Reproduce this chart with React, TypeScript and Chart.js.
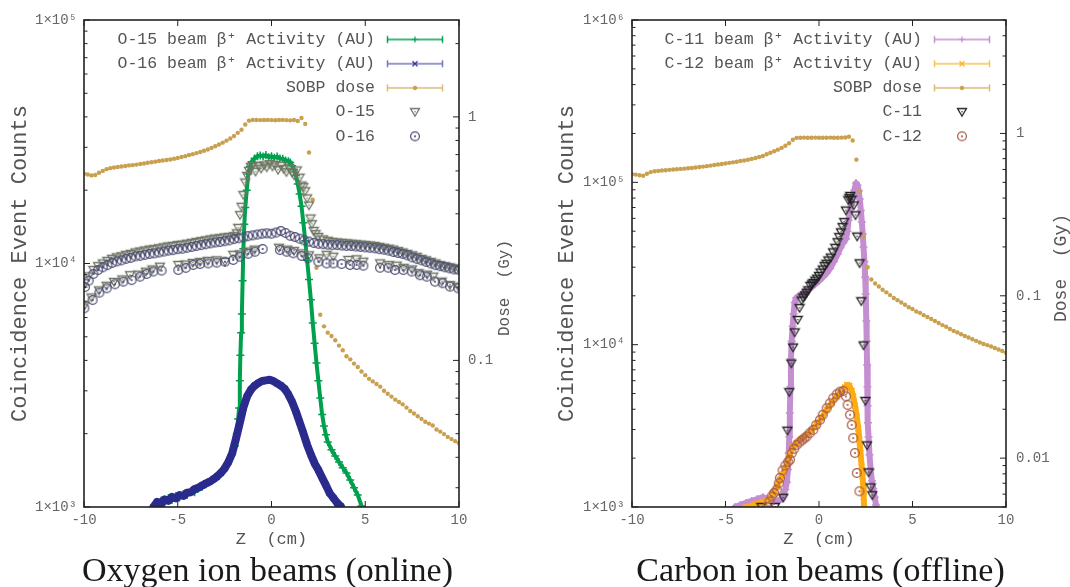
import React, { useEffect, useRef } from "react";
import { Chart, registerables } from "chart.js";
Chart.register(...registerables);

type P = [number, number];

// ---------- axis ticks ----------
const Z_TICKS = [-10, -5, 0, 5, 10];
const OXY_COUNT_TICKS = [1e3, 1e4, 1e5];
const OXY_DOSE_TICKS = [0.1, 1];
const CAR_COUNT_TICKS = [1e3, 1e4, 1e5, 1e6];
const CAR_DOSE_TICKS = [0.01, 0.1, 1];

// ---------- Oxygen panel data ----------
const O15_ACTIVITY: P[] = [
  [-6.3, 1000], [-6.1, 1040], [-5.9, 1060], [-5.7, 1035], [-5.5, 1090], [-5.3, 1070], [-5.1, 1110], [-4.9, 1095],
  [-4.7, 1130], [-4.5, 1120], [-4.3, 1160], [-4.1, 1150], [-3.9, 1195], [-3.7, 1210], [-3.5, 1240], [-3.3, 1265],
  [-3.1, 1300], [-2.9, 1330], [-2.7, 1380], [-2.5, 1440], [-2.3, 1530], [-2.1, 1650], [-1.95, 1780], [-1.85, 2000],
  [-1.78, 2300], [-1.73, 2550], [-1.69, 3300], [-1.66, 4200], [-1.62, 5200], [-1.58, 6200], [-1.54, 8500], [-1.5, 11500],
  [-1.45, 14500], [-1.4, 17000], [-1.32, 20000], [-1.24, 23300], [-1.15, 25000], [-1.06, 26200], [-0.9, 27000], [-0.75, 27600],
  [-0.6, 27800], [-0.45, 27500], [-0.3, 27900], [-0.15, 27300], [0, 27600], [0.15, 27200], [0.3, 27500], [0.45, 27000],
  [0.6, 26900], [0.75, 26500], [0.9, 26300], [1.0, 26000], [1.1, 25200], [1.2, 24300], [1.3, 23000], [1.4, 21200],
  [1.5, 19300], [1.6, 17200], [1.7, 14700], [1.8, 12400], [1.9, 10300], [2.0, 8600], [2.1, 7100], [2.2, 5700],
  [2.3, 4700], [2.4, 3900], [2.5, 3300], [2.6, 2800], [2.7, 2400], [2.8, 2150], [2.9, 1980], [3.0, 1850],
  [3.2, 1720], [3.4, 1620], [3.6, 1530], [3.8, 1450], [4.0, 1380], [4.2, 1290], [4.4, 1200], [4.6, 1120], [4.8, 1010],
];

const O16_ACTIVITY: P[] = [
  [-6.3, 1000], [-6.1, 1050], [-5.9, 1030], [-5.7, 1075], [-5.5, 1060], [-5.3, 1100], [-5.1, 1085], [-4.9, 1120],
  [-4.7, 1110], [-4.5, 1145], [-4.3, 1150], [-4.1, 1185], [-3.9, 1200], [-3.7, 1225], [-3.5, 1250], [-3.3, 1270],
  [-3.1, 1300], [-2.9, 1335], [-2.7, 1380], [-2.5, 1440], [-2.3, 1530], [-2.1, 1660], [-1.9, 1900], [-1.7, 2200],
  [-1.5, 2560], [-1.3, 2850], [-1.1, 3030], [-0.9, 3150], [-0.7, 3230], [-0.5, 3290], [-0.3, 3310], [-0.1, 3330],
  [0.1, 3290], [0.3, 3220], [0.5, 3150], [0.7, 3060], [0.9, 2900], [1.1, 2700], [1.3, 2470], [1.5, 2230],
  [1.7, 2010], [1.9, 1800], [2.1, 1640], [2.3, 1510], [2.5, 1420], [2.7, 1320], [2.9, 1230], [3.1, 1140],
  [3.3, 1090], [3.5, 1040], [3.7, 1005],
];

const DOSE_OXY: P[] = [
  [-10, 0.584], [-9.8, 0.58], [-9.6, 0.575], [-9.4, 0.577], [-9.2, 0.59], [-9, 0.6], [-8.8, 0.61], [-8.6, 0.616],
  [-8.4, 0.62], [-8.2, 0.623], [-8, 0.626], [-7.8, 0.629], [-7.6, 0.632], [-7.4, 0.634], [-7.2, 0.637], [-7, 0.641],
  [-6.8, 0.644], [-6.6, 0.648], [-6.4, 0.651], [-6.2, 0.655], [-6, 0.659], [-5.8, 0.662], [-5.6, 0.665], [-5.4, 0.668],
  [-5.2, 0.673], [-5, 0.678], [-4.8, 0.684], [-4.6, 0.69], [-4.4, 0.697], [-4.2, 0.703], [-4, 0.71], [-3.8, 0.718],
  [-3.6, 0.726], [-3.4, 0.735], [-3.2, 0.746], [-3, 0.758], [-2.8, 0.77], [-2.6, 0.784], [-2.4, 0.799], [-2.2, 0.815],
  [-2, 0.835], [-1.8, 0.86], [-1.6, 0.885], [-1.4, 0.93], [-1.2, 0.965], [-1, 0.972], [-0.8, 0.971], [-0.6, 0.97],
  [-0.4, 0.971], [-0.2, 0.972], [0, 0.97], [0.2, 0.969], [0.4, 0.971], [0.6, 0.972], [0.8, 0.97], [1, 0.968],
  [1.2, 0.971], [1.4, 0.962], [1.6, 0.99], [1.8, 0.936], [2, 0.714], [2.2, 0.457], [2.4, 0.24], [2.6, 0.154],
  [2.8, 0.138], [3, 0.13], [3.2, 0.126], [3.4, 0.121], [3.6, 0.115], [3.8, 0.11], [4, 0.104], [4.2, 0.101],
  [4.4, 0.097], [4.6, 0.094], [4.8, 0.09], [5, 0.087], [5.2, 0.084], [5.4, 0.082], [5.6, 0.08], [5.8, 0.078],
  [6, 0.075], [6.2, 0.073], [6.4, 0.071], [6.6, 0.069], [6.8, 0.0675], [7, 0.066], [7.2, 0.064], [7.4, 0.062],
  [7.6, 0.0605], [7.8, 0.059], [8, 0.0575], [8.2, 0.056], [8.4, 0.055], [8.6, 0.054], [8.8, 0.052], [9, 0.051],
  [9.2, 0.0498], [9.4, 0.0485], [9.6, 0.0475], [9.8, 0.0466], [10, 0.0457],
];

const O15_POINTS_MAIN: P[] = [
  [-9.95, 8300], [-9.75, 8850], [-9.5, 9400], [-9.25, 9750], [-9.0, 10000], [-8.75, 10250], [-8.5, 10450], [-8.25, 10600],
  [-8.0, 10700], [-7.75, 10850], [-7.5, 10950], [-7.25, 11100], [-7.0, 11200], [-6.75, 11300], [-6.5, 11400], [-6.25, 11450],
  [-6.0, 11550], [-5.75, 11650], [-5.5, 11750], [-5.25, 11800], [-5.0, 11900], [-4.75, 11950], [-4.5, 12050], [-4.25, 12150],
  [-4.0, 12250], [-3.75, 12350], [-3.5, 12450], [-3.25, 12550], [-3.0, 12650], [-2.75, 12700], [-2.5, 12800], [-2.25, 12850],
  [-2.0, 12950], [-1.85, 13300], [-1.77, 14000], [-1.68, 15800], [-1.6, 17100], [-1.5, 19100], [-1.4, 21500], [-1.3, 22900],
  [-1.2, 24000], [-1.1, 24900], [-1.0, 25200], [-0.85, 23800], [-0.7, 25100], [-0.55, 24500], [-0.4, 25300], [-0.25, 24800],
  [-0.1, 25600], [0.05, 25000], [0.2, 25400], [0.35, 24200], [0.5, 25200], [0.65, 24400], [0.8, 23700], [0.95, 24600],
  [1.1, 23600], [1.2, 23000], [1.35, 24100], [1.5, 22500], [1.6, 20900], [1.7, 20600], [1.8, 19800], [1.9, 18500],
  [2.0, 17300], [2.08, 15300], [2.15, 14500], [2.25, 13600], [2.35, 13200], [2.5, 12850], [2.75, 12550], [3.0, 12400],
  [3.25, 12250], [3.5, 12200], [3.75, 12150], [4.0, 12100], [4.25, 12050], [4.5, 12000], [4.75, 11950], [5.0, 11900],
  [5.25, 11850], [5.5, 11800], [5.75, 11700], [6.0, 11600], [6.25, 11500], [6.5, 11400], [6.75, 11250], [7.0, 11100],
  [7.25, 10950], [7.5, 10800], [7.75, 10650], [8.0, 10450], [8.25, 10300], [8.5, 10150], [8.75, 10000], [9.0, 9850],
  [9.25, 9750], [9.5, 9650], [9.75, 9550], [10.0, 9450],
];

const O15_POINTS_LOW: P[] = [
  [-9.98, 6700], [-9.6, 7250], [-9.2, 7750], [-8.8, 8100], [-8.4, 8400], [-7.95, 8600], [-7.55, 8950], [-7.1, 9000],
  [-6.7, 9250], [-6.35, 9450], [-5.95, 9700], [-4.97, 9860], [-4.6, 9900], [-4.2, 10050], [-3.8, 10150], [-3.4, 10250],
  [-2.92, 10300], [-2.48, 10150], [-2.04, 10850], [-1.7, 10900], [-1.3, 11200], [-0.9, 11400], [0.4, 11600], [0.85, 11400],
  [1.2, 11250], [1.65, 11000], [2.0, 10800], [2.55, 10500], [2.94, 10850], [3.3, 10660], [4.1, 10340], [4.54, 10400],
  [4.9, 10170], [5.79, 10010], [6.25, 9850], [6.68, 9800], [7.05, 9600], [7.5, 9450], [7.84, 9130], [8.3, 9000],
  [8.63, 8830], [9.08, 8420], [9.52, 8150], [9.96, 8040],
];

const O16_POINTS_MAIN: P[] = [
  [-9.95, 8000], [-9.75, 8500], [-9.5, 9050], [-9.25, 9400], [-9.0, 9650], [-8.75, 9850], [-8.5, 10050], [-8.25, 10200],
  [-8.0, 10300], [-7.75, 10450], [-7.5, 10550], [-7.25, 10700], [-7.0, 10750], [-6.75, 10850], [-6.5, 10950], [-6.25, 11000],
  [-6.0, 11100], [-5.75, 11200], [-5.5, 11300], [-5.25, 11350], [-5.0, 11450], [-4.75, 11500], [-4.5, 11600], [-4.25, 11700],
  [-4.0, 11800], [-3.75, 11900], [-3.5, 12000], [-3.25, 12100], [-3.0, 12200], [-2.75, 12250], [-2.5, 12350], [-2.25, 12450],
  [-2.0, 12600], [-1.75, 12700], [-1.5, 12800], [-1.25, 12950], [-1.0, 13050], [-0.75, 13150], [-0.5, 13250], [-0.25, 13300],
  [0, 13250], [0.25, 13400], [0.5, 13600], [0.75, 13350], [1.0, 13000], [1.25, 12850], [1.5, 12650], [1.75, 12450],
  [2.0, 12300], [2.25, 12150], [2.5, 12050], [2.75, 12000], [3.0, 11950], [3.25, 11900], [3.5, 11900], [3.75, 11850],
  [4.0, 11800], [4.25, 11800], [4.5, 11750], [4.75, 11700], [5.0, 11650], [5.25, 11600], [5.5, 11550], [5.75, 11450],
  [6.0, 11400], [6.25, 11300], [6.5, 11150], [6.75, 11050], [7.0, 10950], [7.25, 10800], [7.5, 10600], [7.75, 10450],
  [8.0, 10300], [8.25, 10150], [8.5, 10000], [8.75, 9850], [9.0, 9750], [9.25, 9650], [9.5, 9550], [9.75, 9450], [10.0, 9400],
];

const O16_POINTS_LOW: P[] = [
  [-9.98, 6550], [-9.54, 7080], [-9.18, 7590], [-8.79, 7910], [-8.35, 8215], [-7.9, 8420], [-7.46, 8550], [-7.01, 8830],
  [-6.66, 9060], [-6.3, 9270], [-5.86, 9350], [-4.97, 9400], [-4.57, 9600], [-4.17, 9860], [-3.81, 9950], [-3.37, 10010],
  [-2.92, 10080], [-2.48, 10170], [-2.04, 10340], [-1.68, 10660], [-1.24, 10960], [-0.88, 11180], [-0.47, 11470], [0.45, 11360],
  [0.81, 11180], [1.16, 11020], [1.61, 10740], [1.96, 10520], [2.5, 10170], [2.94, 10010], [3.3, 10010], [3.74, 9950],
  [4.19, 9860], [4.54, 9860], [4.9, 9800], [5.79, 9610], [6.23, 9610], [6.59, 9400], [7.03, 9400], [7.48, 9270],
  [7.92, 8950], [8.28, 8830], [8.72, 8420], [9.13, 8300], [9.52, 8040], [9.96, 7910],
];

// ---------- Carbon panel data ----------
const C11_ACTIVITY: P[] = [
  [-4.5, 1000], [-4.2, 1030], [-3.9, 1060], [-3.6, 1090], [-3.3, 1120], [-3.0, 1150], [-2.7, 1120], [-2.4, 1090],
  [-2.2, 1086], [-2.0, 1120], [-1.9, 1180], [-1.8, 1280], [-1.72, 1420], [-1.66, 1700], [-1.62, 2150], [-1.59, 2700],
  [-1.56, 3800], [-1.53, 5500], [-1.5, 8200], [-1.46, 10500], [-1.41, 13000], [-1.36, 15500], [-1.3, 18200], [-1.22, 19400],
  [-1.1, 19900], [-0.95, 20300], [-0.8, 20900], [-0.6, 21700], [-0.4, 22600], [-0.2, 23600], [0.0, 24700], [0.2, 26000],
  [0.4, 27500], [0.6, 29500], [0.8, 32500], [1.0, 36100], [1.15, 39500], [1.3, 42500], [1.44, 44800], [1.52, 50000],
  [1.58, 58300], [1.65, 66000], [1.72, 74000], [1.8, 83000], [1.89, 89500], [1.98, 99000], [2.06, 96000], [2.12, 89000],
  [2.18, 79000], [2.24, 67000], [2.29, 57000], [2.34, 48000], [2.38, 40000], [2.43, 32500], [2.47, 26000], [2.5, 20500],
  [2.53, 14000], [2.55, 10500], [2.57, 7500], [2.59, 5500], [2.6, 4200], [2.62, 3300], [2.65, 2700], [2.7, 2100],
  [2.76, 1700], [2.83, 1450], [2.9, 1300], [2.98, 1150], [3.05, 1030],
];

const C12_ACTIVITY: P[] = [
  [-3.9, 1000], [-3.6, 1020], [-3.3, 1050], [-3.0, 1070], [-2.8, 1085], [-2.6, 1140], [-2.44, 1222], [-2.25, 1330],
  [-2.09, 1475], [-1.95, 1590], [-1.82, 1698], [-1.68, 1900], [-1.55, 2150], [-1.4, 2330], [-1.19, 2474], [-0.95, 2620],
  [-0.66, 2783], [-0.4, 2980], [-0.12, 3204], [0.15, 3550], [0.41, 3965], [0.7, 4400], [0.95, 4785], [1.2, 5150],
  [1.39, 5450], [1.5, 5650], [1.62, 5600], [1.75, 5200], [1.83, 4785], [1.93, 4200], [2.02, 3606], [2.1, 3050],
  [2.16, 2594], [2.22, 2150], [2.28, 1780], [2.33, 1540], [2.37, 1342], [2.39, 1150], [2.41, 1000],
];

const DOSE_CAR: P[] = [
  [-10, 0.562], [-9.8, 0.558], [-9.6, 0.553], [-9.4, 0.549], [-9.2, 0.565], [-9, 0.578], [-8.8, 0.585], [-8.6, 0.588],
  [-8.4, 0.591], [-8.2, 0.594], [-8, 0.597], [-7.8, 0.6], [-7.6, 0.602], [-7.4, 0.605], [-7.2, 0.607], [-7, 0.61],
  [-6.8, 0.613], [-6.6, 0.617], [-6.4, 0.621], [-6.2, 0.625], [-6, 0.629], [-5.8, 0.634], [-5.6, 0.639], [-5.4, 0.644],
  [-5.2, 0.649], [-5, 0.654], [-4.8, 0.659], [-4.6, 0.664], [-4.4, 0.67], [-4.2, 0.676], [-4, 0.682], [-3.8, 0.689],
  [-3.6, 0.697], [-3.4, 0.706], [-3.2, 0.716], [-3, 0.727], [-2.8, 0.745], [-2.6, 0.76], [-2.4, 0.777], [-2.2, 0.795],
  [-2, 0.815], [-1.8, 0.84], [-1.6, 0.87], [-1.4, 0.915], [-1.2, 0.94], [-1, 0.942], [-0.8, 0.943], [-0.6, 0.941],
  [-0.4, 0.942], [-0.2, 0.943], [0, 0.942], [0.2, 0.941], [0.4, 0.942], [0.6, 0.943], [0.8, 0.941], [1, 0.942],
  [1.2, 0.943], [1.4, 0.945], [1.6, 0.955], [1.8, 0.905], [2, 0.69], [2.2, 0.44], [2.4, 0.232], [2.6, 0.15],
  [2.8, 0.126], [3, 0.119], [3.2, 0.114], [3.4, 0.109], [3.6, 0.105], [3.8, 0.101], [4, 0.097], [4.2, 0.094],
  [4.4, 0.091], [4.6, 0.088], [4.8, 0.085], [5, 0.083], [5.2, 0.08], [5.4, 0.0785], [5.6, 0.076], [5.8, 0.074],
  [6, 0.072], [6.2, 0.07], [6.4, 0.068], [6.6, 0.066], [6.8, 0.0645], [7, 0.0625], [7.2, 0.0608], [7.4, 0.0595],
  [7.6, 0.058], [7.8, 0.0566], [8, 0.0553], [8.2, 0.054], [8.4, 0.0528], [8.6, 0.0516], [8.8, 0.0505], [9, 0.0497],
  [9.2, 0.0487], [9.4, 0.0477], [9.6, 0.0467], [9.8, 0.0457], [10, 0.0446],
];

const C11_POINTS: P[] = [
  [-3.08, 1000], [-2.35, 1000], [-1.91, 1140], [-1.69, 2950], [-1.59, 5100], [-1.48, 7650], [-1.39, 9600], [-1.3, 11900],
  [-1.14, 14200], [-1.04, 16800], [-0.93, 18700], [-0.84, 19500], [-0.75, 20100], [-0.66, 20900], [-0.57, 21600], [-0.46, 23000],
  [-0.38, 23500], [-0.3, 24000], [-0.2, 24800], [-0.1, 25500], [0.0, 26500], [0.08, 27800], [0.2, 29000], [0.3, 30500],
  [0.4, 31500], [0.5, 33000], [0.63, 34400], [0.75, 37000], [0.87, 39500], [0.99, 42750], [1.08, 46000], [1.17, 49200],
  [1.26, 53000], [1.35, 56900], [1.44, 67000], [1.57, 77600], [1.62, 80000], [1.67, 82400], [1.75, 78000], [1.86, 72100],
  [1.95, 62600], [2.04, 46300], [2.17, 31700], [2.26, 18500], [2.38, 9890], [2.48, 4500], [2.57, 2393], [2.65, 1634],
  [2.76, 1319], [2.85, 1181],
];

const C12_POINTS: P[] = [
  [-2.8, 1000], [-2.65, 1080], [-2.53, 1165], [-2.4, 1220], [-2.26, 1280], [-2.15, 1400], [-2.09, 1510], [-1.95, 1680],
  [-1.8, 1800], [-1.65, 1900], [-1.55, 1955], [-1.46, 2150], [-1.33, 2280], [-1.19, 2417], [-1.05, 2500], [-0.9, 2580],
  [-0.78, 2650], [-0.66, 2720], [-0.5, 2850], [-0.31, 2985], [-0.15, 3200], [0.05, 3440], [0.2, 3700], [0.41, 4060],
  [0.58, 4350], [0.76, 4680], [0.95, 4950], [1.12, 5130], [1.3, 5190], [1.44, 4800], [1.53, 4255], [1.66, 3700],
  [1.75, 3204], [1.83, 2658], [1.92, 2150], [2.02, 1620], [2.16, 1250],
];

// ---------- styling ----------
const MONO = "'Liberation Mono', 'DejaVu Sans Mono', monospace";
const SERIF = "'Liberation Serif', 'DejaVu Serif', serif";
const TEXT = "#555555";
const SUP: Record<string, string> = { "0": "⁰", "1": "¹", "2": "²", "3": "³", "4": "⁴", "5": "⁵", "6": "⁶", "7": "⁷", "8": "⁸", "9": "⁹" };
const sciLabel = (v: number) => "1×10" + String(Math.round(Math.log10(v))).split("").map((d) => SUP[d] || d).join("");

function mk(w: number, h: number, draw: (c: CanvasRenderingContext2D) => void) {
  const cv = document.createElement("canvas");
  cv.width = w;
  cv.height = h;
  draw(cv.getContext("2d") as CanvasRenderingContext2D);
  return cv;
}
function triMarker(color: string) {
  return mk(12, 12, (c) => {
    c.strokeStyle = color;
    c.lineWidth = 1.3;
    c.beginPath();
    c.moveTo(1.5, 2.5);
    c.lineTo(10.5, 2.5);
    c.lineTo(6, 10);
    c.closePath();
    c.stroke();
    c.fillStyle = color;
    c.fillRect(5.4, 5, 1.3, 1.3);
  });
}
function circMarker(color: string) {
  return mk(12, 12, (c) => {
    c.strokeStyle = color;
    c.lineWidth = 1.2;
    c.beginPath();
    c.arc(6, 6, 4.4, 0, Math.PI * 2);
    c.stroke();
    c.fillStyle = color;
    c.beginPath();
    c.arc(6, 6, 1.1, 0, Math.PI * 2);
    c.fill();
  });
}
function lineSample(lineColor: string, markColor: string, mark: string) {
  return mk(68, 12, (c) => {
    c.strokeStyle = lineColor;
    c.lineWidth = 1.5;
    c.beginPath();
    c.moveTo(3, 6);
    c.lineTo(59, 6);
    c.moveTo(3.5, 2.5);
    c.lineTo(3.5, 9.5);
    c.moveTo(58.5, 2.5);
    c.lineTo(58.5, 9.5);
    c.stroke();
    c.strokeStyle = markColor;
    c.fillStyle = markColor;
    c.lineWidth = 1.2;
    c.beginPath();
    if (mark === "+") {
      c.moveTo(31, 3);
      c.lineTo(31, 9);
      c.moveTo(28, 6);
      c.lineTo(34, 6);
      c.stroke();
    } else if (mark === "x") {
      c.moveTo(28.5, 3.5);
      c.lineTo(33.5, 8.5);
      c.moveTo(33.5, 3.5);
      c.lineTo(28.5, 8.5);
      c.stroke();
    } else {
      c.arc(31, 6, 2.2, 0, Math.PI * 2);
      c.fill();
    }
  });
}
function markSample(marker: HTMLCanvasElement) {
  return mk(68, 12, (c) => c.drawImage(marker, 25, 0));
}

interface Series {
  label: string;
  data: P[];
  kind: "band" | "dose" | "tri" | "circ";
  color: string;
  width?: number;
  cross?: string;
  legendLine?: string;
}
interface PanelCfg {
  series: Series[];
  countMin: number;
  countMax: number;
  countTicks: number[];
  doseMin: number;
  doseMax: number;
  doseTicks: number[];
  leftW: number;
  rightW: number;
  yTitlePad: number;
  y2Pad: number;
  y2TitleX: number;
  y2TitleY: number;
  y2TitleSize: number;
}

function logTicks(min: number, max: number): [number, boolean][] {
  const out: [number, boolean][] = [];
  for (let e = Math.floor(Math.log10(min)); e <= Math.ceil(Math.log10(max)); e++) {
    for (let m = 1; m <= 9; m++) {
      const v = m * Math.pow(10, e);
      if (v >= min * 0.999 && v <= max * 1.001) out.push([v, m === 1]);
    }
  }
  return out;
}

function buildChart(canvas: HTMLCanvasElement, cfg: PanelCfg) {
  const n = cfg.series.length;
  const legendImgs: HTMLCanvasElement[] = [];
  const datasets = cfg.series.map((s, i) => {
    const pts = s.data.map(([x, y]) => ({ x, y }));
    if (s.kind === "band") {
      legendImgs.push(lineSample(s.legendLine || s.color, s.color, s.cross === "crossRot" ? "x" : "+"));
      return {
        label: s.label, data: pts, yAxisID: "y", order: n - i, showLine: true,
        borderColor: s.color, backgroundColor: s.color, borderWidth: s.width || 3,
        borderJoinStyle: "round", borderCapStyle: "round", tension: 0,
        pointStyle: s.cross || "cross", pointRadius: 4, pointBorderWidth: 1.5, pointBorderColor: s.color,
      };
    }
    if (s.kind === "dose") {
      legendImgs.push(lineSample(s.legendLine || s.color, s.color, "dot"));
      return {
        label: s.label, data: pts, yAxisID: "y2", order: n - i, showLine: false,
        pointStyle: "circle", pointRadius: 2.2, borderWidth: 0, backgroundColor: s.color, borderColor: s.color,
      };
    }
    const marker = s.kind === "tri" ? triMarker(s.color) : circMarker(s.color);
    legendImgs.push(markSample(marker));
    return {
      label: s.label, data: pts, yAxisID: "y", order: n - i, showLine: false,
      pointStyle: marker, pointRadius: 5, borderColor: s.color, backgroundColor: "transparent",
    };
  });

  const frame = {
    id: "frameTicks",
    afterDraw(chart: any) {
      const { ctx, chartArea: a } = chart;
      const xs = chart.scales.x, ys = chart.scales.y, y2 = chart.scales.y2;
      ctx.save();
      // legend (gnuplot style: right-aligned text, then sample)
      ctx.font = `16.5px ${MONO}`;
      ctx.fillStyle = TEXT;
      ctx.textAlign = "right";
      ctx.textBaseline = "middle";
      chart.data.datasets.forEach((ds: any, i: number) => {
        const y = a.top + 19.5 + i * 24.2;
        ctx.fillText(ds.label, a.right - 84, y);
        ctx.drawImage(legendImgs[i], a.right - 75, y - 6);
      });
      // ticks
      ctx.strokeStyle = "#222";
      ctx.lineWidth = 1;
      ctx.beginPath();
      for (const v of Z_TICKS) {
        const p = xs.getPixelForValue(v);
        ctx.moveTo(p, a.bottom);
        ctx.lineTo(p, a.bottom - 6);
        ctx.moveTo(p, a.top);
        ctx.lineTo(p, a.top + 6);
      }
      for (const [v, major] of logTicks(cfg.countMin, cfg.countMax)) {
        const p = ys.getPixelForValue(v);
        ctx.moveTo(a.left, p);
        ctx.lineTo(a.left + (major ? 6 : 3.5), p);
      }
      for (const [v, major] of logTicks(cfg.doseMin, cfg.doseMax)) {
        const p = y2.getPixelForValue(v);
        ctx.moveTo(a.right, p);
        ctx.lineTo(a.right - (major ? 6 : 3.5), p);
      }
      ctx.stroke();
      ctx.lineWidth = 1.6;
      ctx.strokeRect(a.left, a.top, a.right - a.left, a.bottom - a.top);
      // right axis title, reading bottom-to-top
      ctx.fillStyle = TEXT;
      ctx.font = `${cfg.y2TitleSize}px ${MONO}`;
      ctx.textAlign = "center";
      ctx.textBaseline = "middle";
      ctx.translate(cfg.y2TitleX, cfg.y2TitleY);
      ctx.rotate(-Math.PI / 2);
      ctx.fillText("Dose  (Gy)", 0, 0);
      ctx.restore();
    },
  };

  const tickFont = { family: MONO, size: 14 };
  return new Chart(canvas, {
    type: "scatter",
    data: { datasets: datasets as any },
    plugins: [frame],
    options: {
      animation: false,
      responsive: false,
      maintainAspectRatio: false,
      layout: { padding: { left: 0, right: 0, top: 20, bottom: 0 } },
      scales: {
        x: {
          type: "linear", position: "bottom", min: -10, max: 10, bounds: "data",
          afterBuildTicks: (s: any) => { s.ticks = Z_TICKS.map((v) => ({ value: v })); },
          afterFit: (s: any) => { s.height = 80; },
          grid: { display: false, drawTicks: false }, border: { display: false },
          ticks: { padding: 5, color: "#666", font: tickFont, autoSkip: false, maxRotation: 0, callback: (v: any) => String(v) },
          title: { display: true, text: "Z  (cm)", color: TEXT, font: { family: MONO, size: 17 }, padding: { top: 0, bottom: 37 } },
        },
        y: {
          type: "logarithmic", position: "left", min: cfg.countMin, max: cfg.countMax, bounds: "data",
          afterBuildTicks: (s: any) => { s.ticks = cfg.countTicks.map((v) => ({ value: v })); },
          afterFit: (s: any) => { s.width = cfg.leftW; },
          grid: { display: false, drawTicks: false }, border: { display: false },
          ticks: { padding: 7, color: "#666", font: tickFont, autoSkip: false, callback: (v: any) => sciLabel(Number(v)) },
          title: { display: true, text: "Coincidence Event Counts", color: TEXT, font: { family: MONO, size: 22 }, padding: { top: cfg.yTitlePad, bottom: 0 } },
        },
        y2: {
          type: "logarithmic", position: "right", min: cfg.doseMin, max: cfg.doseMax, bounds: "data",
          afterBuildTicks: (s: any) => { s.ticks = cfg.doseTicks.map((v) => ({ value: v })); },
          afterFit: (s: any) => { s.width = cfg.rightW; },
          grid: { display: false, drawTicks: false }, border: { display: false },
          ticks: { padding: cfg.y2Pad, color: "#666", font: tickFont, autoSkip: false, callback: (v: any) => String(Number(v)) },
        },
      },
      plugins: {
        tooltip: { enabled: false },
        legend: { display: false },
      },
    } as any,
  });
}

const OXY_CFG: PanelCfg = {
  series: [
    { label: "O-15 beam β⁺ Activity (AU)", data: O15_ACTIVITY, kind: "band", color: "#00a04e", width: 4, cross: "cross" },
    { label: "O-16 beam β⁺ Activity (AU)", data: O16_ACTIVITY, kind: "band", color: "#2b2b8e", width: 8, cross: "crossRot", legendLine: "#7474c2" },
    { label: "SOBP dose", data: DOSE_OXY, kind: "dose", color: "#c9a04f", legendLine: "#dcbb78" },
    { label: "O-15", data: [...O15_POINTS_MAIN, ...O15_POINTS_LOW], kind: "tri", color: "#6f7663" },
    { label: "O-16", data: [...O16_POINTS_MAIN, ...O16_POINTS_LOW], kind: "circ", color: "#4c4c74" },
  ],
  countMin: 1e3, countMax: 1e5, countTicks: OXY_COUNT_TICKS,
  doseMin: 0.025, doseMax: 2.5, doseTicks: OXY_DOSE_TICKS,
  leftW: 84, rightW: 76, yTitlePad: 6.5, y2Pad: 9,
  y2TitleX: 505, y2TitleY: 288, y2TitleSize: 16,
};

const CAR_CFG: PanelCfg = {
  series: [
    { label: "C-11 beam β⁺ Activity (AU)", data: C11_ACTIVITY, kind: "band", color: "#c48ed0", width: 6, cross: "cross" },
    { label: "C-12 beam β⁺ Activity (AU)", data: C12_ACTIVITY, kind: "band", color: "#ffab12", width: 6, cross: "crossRot", legendLine: "#fcc24e" },
    { label: "SOBP dose", data: DOSE_CAR, kind: "dose", color: "#c9a04f", legendLine: "#dcbb78" },
    { label: "C-11", data: C11_POINTS, kind: "tri", color: "#222222" },
    { label: "C-12", data: C12_POINTS, kind: "circ", color: "#a85c48" },
  ],
  countMin: 1e3, countMax: 1e6, countTicks: CAR_COUNT_TICKS,
  doseMin: 0.005, doseMax: 5, doseTicks: CAR_DOSE_TICKS,
  leftW: 97, rightW: 64, yTitlePad: 19, y2Pad: 10,
  y2TitleX: 526, y2TitleY: 268, y2TitleSize: 18,
};

function Panel({ cfg, left }: { cfg: PanelCfg; left: number }) {
  const ref = useRef<HTMLCanvasElement>(null);
  useEffect(() => {
    const chart = buildChart(ref.current as HTMLCanvasElement, cfg);
    return () => chart.destroy();
  }, []);
  return (
    <canvas
      ref={ref}
      width={535}
      height={587}
      style={{ position: "absolute", left, top: 0, width: 535, height: 587 }}
    />
  );
}

const captionStyle: React.CSSProperties = {
  position: "absolute",
  top: 553,
  width: 535,
  textAlign: "center",
  fontFamily: SERIF,
  fontSize: 34,
  lineHeight: "34px",
  color: "#1a1a1a",
  whiteSpace: "nowrap",
};

export default function App() {
  return (
    <div style={{ position: "absolute", left: 0, top: 0, width: 1070, height: 587, background: "#fff", overflow: "hidden" }}>
      <Panel cfg={OXY_CFG} left={0} />
      <Panel cfg={CAR_CFG} left={535} />
      <div style={{ ...captionStyle, left: 0 }}>Oxygen ion beams (online)</div>
      <div style={{ ...captionStyle, left: 553 }}>Carbon ion beams (offline)</div>
    </div>
  );
}
